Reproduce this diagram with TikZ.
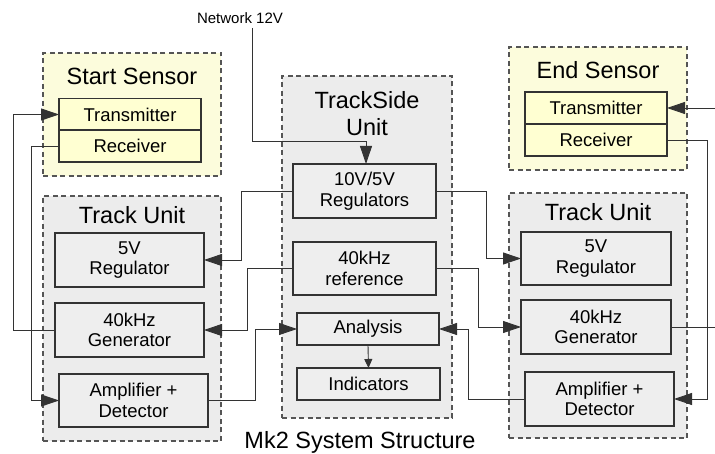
\documentclass[tikz,border=0pt]{standalone}
\usepackage{fontspec}
\setmainfont{Liberation Sans}
\usetikzlibrary{arrows.meta,calc}
\definecolor{ylwout}{HTML}{FCFCDC}
\definecolor{ylwin}{HTML}{FFFFD2}
\definecolor{grayout}{HTML}{ECECEC}
\definecolor{grayin}{HTML}{EEEEEE}
\definecolor{edge}{HTML}{333333}
\definecolor{dashc}{HTML}{555555}
\begin{document}
\begin{tikzpicture}[x=1pt,y=-1pt,
  group/.style={draw=dashc,line width=1.2pt,dash pattern=on 5pt off 3.5pt,minimum width=#1,inner sep=0pt,outer sep=0pt},
  ygroup/.style={group=178pt,fill=ylwout,minimum height=123pt},
  ggroup/.style={group=#1,fill=grayout},
  blk/.style={draw=edge,line width=1.3pt,fill=grayin,inner sep=0pt,outer sep=0pt,align=center,
    font=\fontsize{18.5}{20.7}\selectfont},
  yblk/.style={blk,fill=ylwin,minimum width=142pt,minimum height=32pt},
  title/.style={font=\fontsize{23.5}{27}\selectfont,align=center,inner sep=0pt},
  conn/.style={draw=edge,line width=0.9pt},
  arr/.style={conn,-{Triangle[length=18pt,width=12pt]}},
  sarr/.style={conn,-{Triangle[length=9pt,width=8pt]}}
]
\useasboundingbox[fill=white] (0,0) rectangle (715,454);

% groups
\node[ygroup] (ss) at (132,114.5) {};
\node[ggroup=178pt,minimum height=245pt] (ltu) at (132,318.5) {};
\node[ggroup=170pt,minimum height=342pt] (tsu) at (367,247) {};
\node[ygroup] (es) at (598,108.5) {};
\node[ggroup=178pt,minimum height=245pt] (rtu) at (598,315.5) {};

% titles
\node[title] (sst) at (132,76) {Start Sensor};
\node[title] (ltut) at (132,215) {Track Unit};
\node[title] (tsut) at (367,113.5) {TrackSide\\Unit};
\node[title] (est) at (598,70) {End Sensor};
\node[title] (rtut) at (598,212) {Track Unit};
\node[title] (cap) at (360,442) {Mk2 System Structure};
\node[inner sep=0pt,font=\fontsize{15}{17}\selectfont] (net) at (240,18) {Network 12V};

% start sensor
\node[yblk] (ltx) at (130,114.5) {Transmitter};
\node[yblk] (lrx) at (130,146) {Receiver};
% left track unit
\node[blk,minimum width=149pt,minimum height=54pt] (l5v) at (129.5,260) {5V\\Regulator};
\node[blk,minimum width=149pt,minimum height=54pt] (lgen) at (129.5,330) {40kHz\\Generator};
\node[blk,minimum width=149pt,minimum height=53pt] (lamp) at (133.5,400.5) {Amplifier +\\Detector};
% trackside
\node[blk,minimum width=143pt,minimum height=54pt] (reg) at (364.5,191) {10V/5V\\Regulators};
\node[blk,minimum width=143pt,minimum height=53pt] (ref) at (364.5,268.5) {40kHz\\reference};
\node[blk,minimum width=142pt,minimum height=32pt] (ana) at (368,329) {Analysis};
\node[blk,minimum width=143pt,minimum height=32pt] (ind) at (368.5,384) {Indicators};
% end sensor
\node[yblk] (rtx) at (596,108) {Transmitter};
\node[yblk] (rrx) at (596,140) {Receiver};
% right track unit
\node[blk,minimum width=150pt,minimum height=53pt] (r5v) at (596,258.5) {5V\\Regulator};
\node[blk,minimum width=150pt,minimum height=54pt] (rgen) at (596,327) {40kHz\\Generator};
\node[blk,minimum width=149pt,minimum height=54pt] (ramp) at (599.5,399) {Amplifier +\\Detector};

% free ends
\coordinate (netc) at (252,28);
\coordinate (edgeA) at (716,108);
\coordinate (edgeB) at (716,327);

% connectors
\draw[arr] (netc) -- (252,141) -| ([xshift=1.5pt]reg.north);
\draw[arr] (reg.west) -- (241,191) |- (l5v.east);
\draw[arr] (reg.east) -- (486,191) |- (r5v.west);
\draw[arr] (ref.west) -- (247,268.5) |- (lgen.east);
\draw[arr] (ref.east) -- (478,268.5) |- (rgen.west);
\draw[arr] (lgen.west) -- (13,330) |- (ltx.west);
\draw[arr] (lrx.west) -- (31,146) |- (lamp.west);
\draw[arr] (lamp.east) -- (255,400.5) |- (ana.west);
\draw[arr] (ramp.west) -- (468,399) |- (ana.east);
\draw[sarr] (ana.south) -- (ind.north);
\draw[arr] (rrx.east) -- (707,140) |- (ramp.east);
\draw[conn] (rgen.east) -- (edgeB);
\draw[arr] (edgeA) -- (rtx.east);
\end{tikzpicture}
\end{document}
